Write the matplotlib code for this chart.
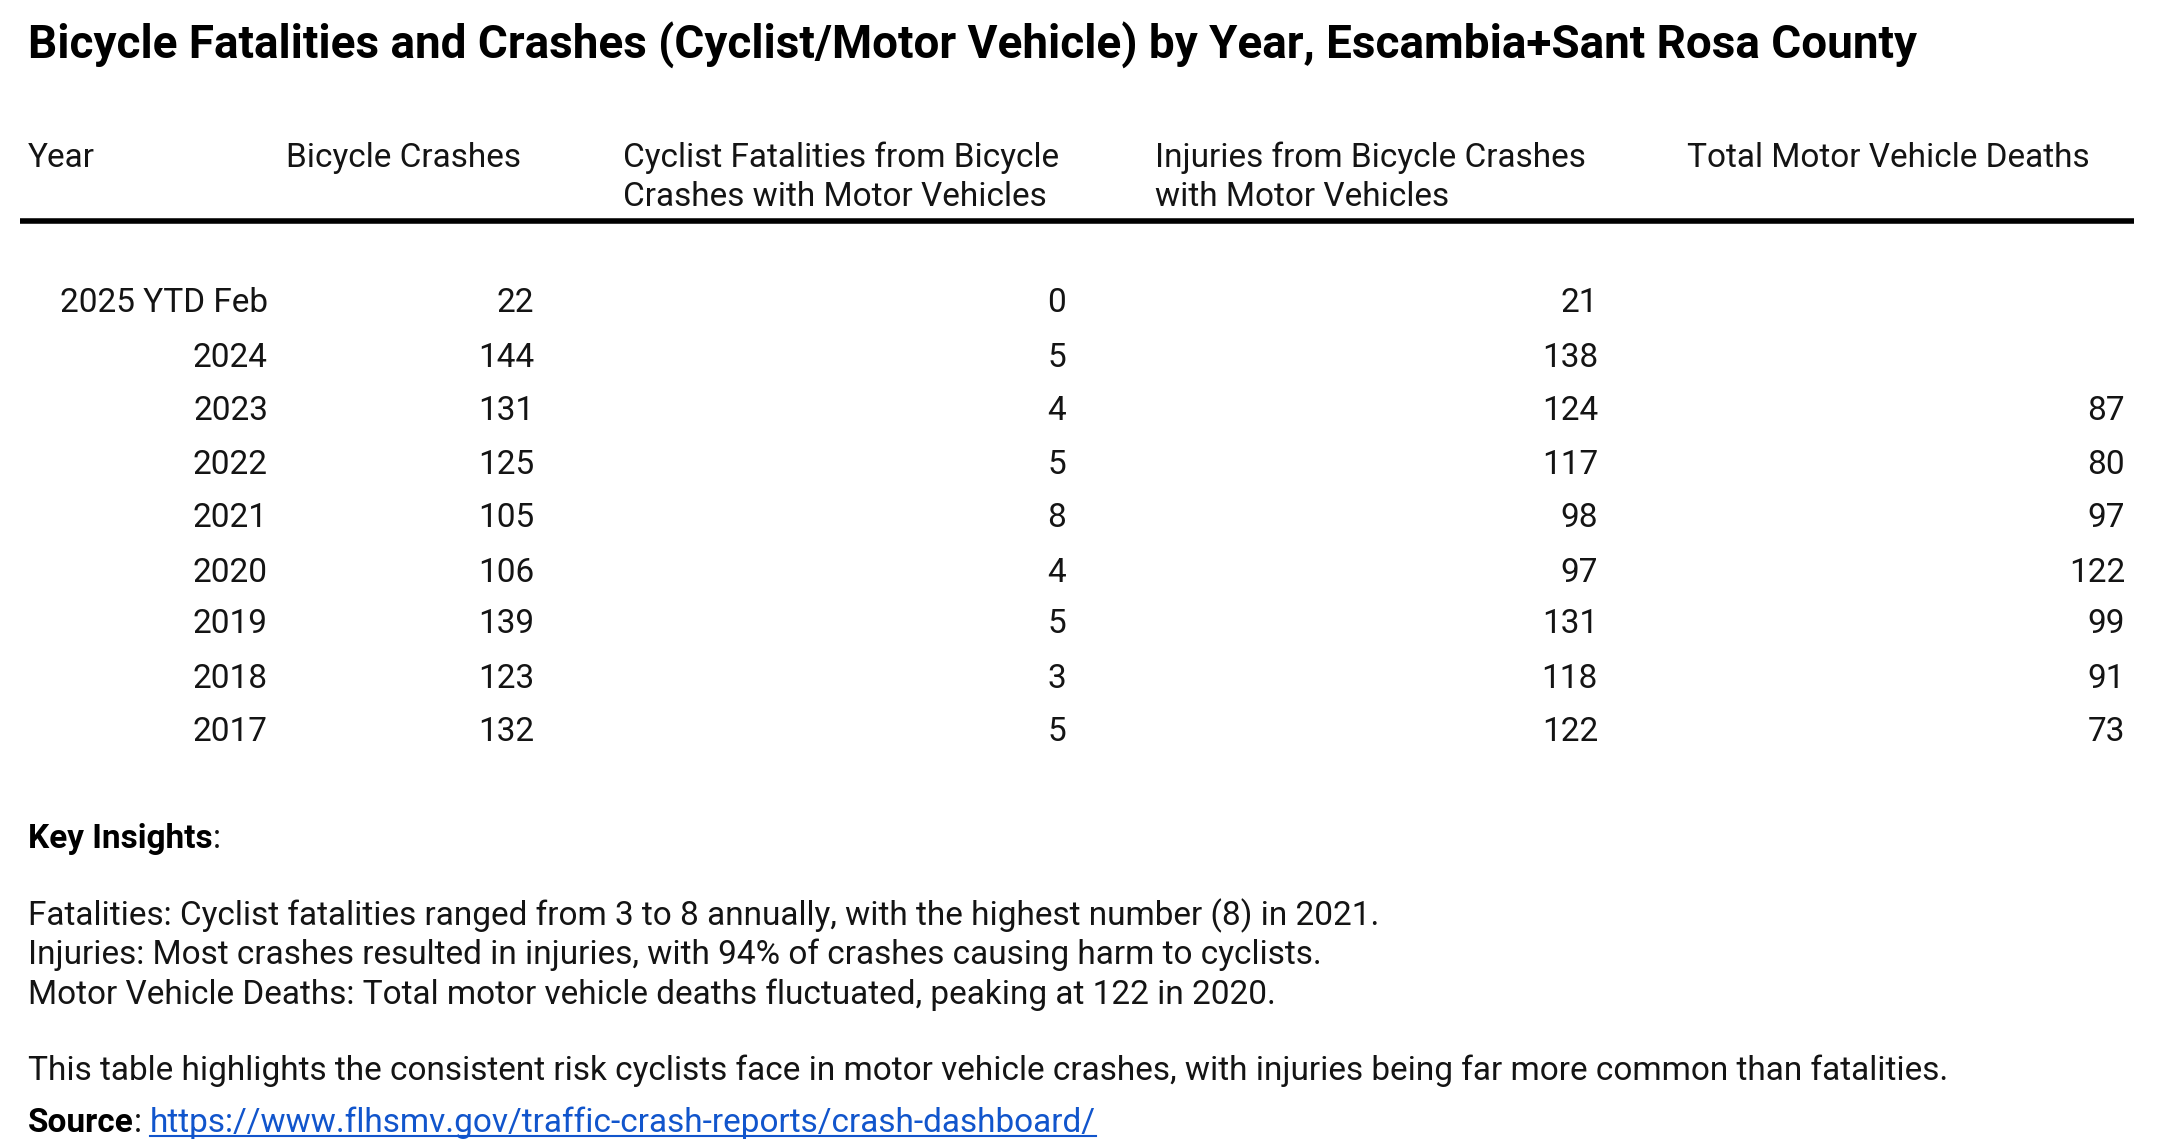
import matplotlib
matplotlib.use("Agg")
import matplotlib.pyplot as plt

years = ["2025 YTD Feb", "2024", "2023", "2022", "2021", "2020", "2019", "2018", "2017"]
bicycle_crashes = [22, 144, 131, 125, 105, 106, 139, 123, 132]
cyclist_fatalities = [0, 5, 4, 5, 8, 4, 5, 3, 5]
injuries = [21, 138, 124, 117, 98, 97, 131, 118, 122]
total_mv_deaths = [None, None, 87, 80, 97, 122, 99, 91, 73]

headers = ["Year", "Bicycle Crashes",
           "Cyclist Fatalities from Bicycle\nCrashes with Motor Vehicles",
           "Injuries from Bicycle Crashes\nwith Motor Vehicles",
           "Total Motor Vehicle Deaths"]

title = "Bicycle Fatalities and Crashes (Cyclist/Motor Vehicle) by Year, Escambia+Sant Rosa County"
insights = [
    "Fatalities: Cyclist fatalities ranged from 3 to 8 annually, with the highest number (8) in 2021.",
    "Injuries: Most crashes resulted in injuries, with 94% of crashes causing harm to cyclists.",
    "Motor Vehicle Deaths: Total motor vehicle deaths fluctuated, peaking at 122 in 2020.",
]
summary = "This table highlights the consistent risk cyclists face in motor vehicle crashes, with injuries being far more common than fatalities."
source_url = "https://www.flhsmv.gov/traffic-crash-reports/crash-dashboard/"

plt.rcParams['font.family'] = ['Roboto', 'DejaVu Sans']
W, H = 2158, 1148
fig = plt.figure(figsize=(W / 100, H / 100), dpi=100)
ax = fig.add_axes([0, 0, 1, 1])
ax.set_xlim(0, W)
ax.set_ylim(H, 0)
ax.axis('off')

txt = '#141414'
body = 24

ax.text(28, 45, title, fontsize=33, fontweight='bold', color='#000000', va='center', ha='left')

hdr_x = [28, 286, 623, 1155, 1687]
for x, h in zip(hdr_x, headers):
    for k, part in enumerate(h.split("\n")):
        ax.text(x, 158 + 39 * k, part, fontsize=body, color=txt, va='center', ha='left')

ax.plot([20, 2134], [221, 221], color='#000000', lw=4, solid_capstyle='butt')

row_y = [303, 358, 411, 465, 518, 573, 624, 679, 732]
col_right = [268, 534, 1066, 1598, 2125]
cols = [years, bicycle_crashes, cyclist_fatalities, injuries, total_mv_deaths]
for cx, col in zip(col_right, cols):
    for y, v in zip(row_y, col):
        if v is None:
            continue
        ax.text(cx, y, str(v), fontsize=body, color=txt, va='center', ha='right')

fig.canvas.draw()
r = fig.canvas.get_renderer()
inv = ax.transData.inverted()


def right_of(t):
    fig.canvas.draw()
    bb = t.get_window_extent(r)
    return inv.transform((bb.x1, bb.y0))[0]


ki = ax.text(28, 839, "Key Insights", fontsize=body, fontweight='bold', color='#000000', va='center', ha='left')
ax.text(right_of(ki), 839, ":", fontsize=body, color=txt, va='center', ha='left')

for y, line in zip([916, 955, 995], insights):
    ax.text(28, y, line, fontsize=body, color=txt, va='center', ha='left')
ax.text(28, 1071, summary, fontsize=body, color=txt, va='center', ha='left')

s = ax.text(28, 1123, "Source", fontsize=body, fontweight='bold', color='#000000', va='center', ha='left')
c = ax.text(right_of(s), 1123, ": ", fontsize=body, color=txt, va='center', ha='left')
link = ax.text(right_of(c), 1123, source_url, fontsize=body, color='#1155cc', va='center', ha='left')
fig.canvas.draw()
bb = link.get_window_extent(r)
(lx0, ly0) = inv.transform((bb.x0, bb.y0))
(lx1, _) = inv.transform((bb.x1, bb.y0))
ax.plot([lx0, lx1], [ly0 - 3, ly0 - 3], color='#1155cc', lw=1.5)

fig.savefig("out.png", dpi=100, facecolor='white')
